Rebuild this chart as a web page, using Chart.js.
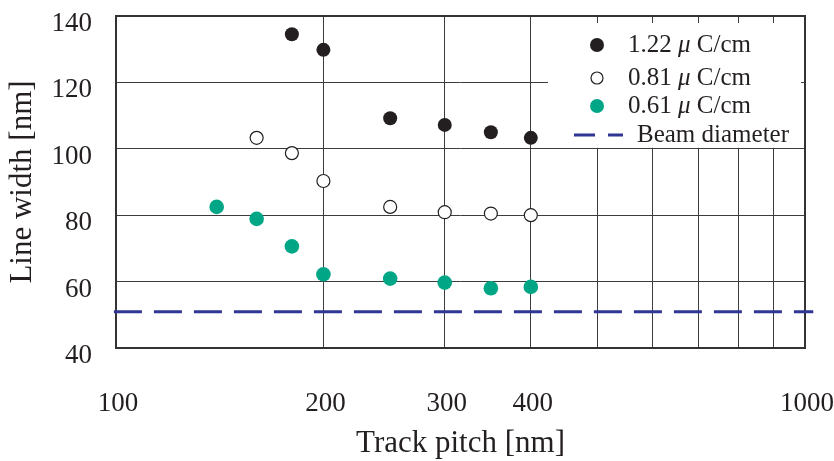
<!DOCTYPE html>
<html>
<head>
<meta charset="utf-8">
<script src="https://cdn.jsdelivr.net/npm/chart.js@4.4.1/dist/chart.umd.min.js"></script>
<style>
  html, body { margin: 0; padding: 0; background: #fff; }
  #wrap { width: 834px; height: 461px; position: relative; }
</style>
</head>
<body>
<div id="wrap"><canvas id="c" width="834" height="461"></canvas></div>
<script>
// ---- data ----
const pitch122 = [180, 200, 250, 300, 350, 400];
const width122 = [134.5, 129.8, 109.2, 107.2, 105.0, 103.3];

const pitch081 = [160, 180, 200, 250, 300, 350, 400];
const width081 = [103.3, 98.7, 90.3, 82.5, 80.9, 80.5, 80.0];

const pitch061 = [140, 160, 180, 200, 250, 300, 350, 400];
const width061 = [82.5, 78.9, 70.6, 62.2, 60.9, 59.7, 58.0, 58.4];

const beamPitch = [99.3, 1028];
const beamWidth = [50.9, 50.9];

const seriesLabels = ['1.22 μ C/cm', '0.81 μ C/cm', '0.61 μ C/cm', 'Beam diameter'];
const xGridValues = [100, 200, 300, 400, 500, 600, 700, 800, 900, 1000];
const xTickLabels = [100, 200, 300, 400, 1000];
const yTicks = [40, 60, 80, 100, 120, 140];

const pts = (xs, ys) => xs.map((x, i) => ({ x: x, y: ys[i] }));

const SERIF = '"Liberation Serif", "Times New Roman", serif';
const INK = '#231f20';
const GRID = '#3c3c3c';
const GREEN = '#00a686';
const BLUE = '#2f3592';

const framePlugin = {
  id: 'frameAndLegend',
  beforeDatasetsDraw(chart) {
    const { ctx, chartArea: a, scales } = chart;
    const y100 = scales.y.getPixelForValue(100);
    ctx.save();
    ctx.fillStyle = '#ffffff';
    ctx.fillRect(a.right - 257, a.top + 7, 257 - 4, y100 - a.top - 7 - 1);
    ctx.strokeStyle = '#333333';
    ctx.lineWidth = 2;
    ctx.strokeRect(a.left, a.top, a.right - a.left, a.bottom - a.top);
    ctx.restore();
  },
  afterDraw(chart) {
    const { ctx, chartArea: a } = chart;
    const mx = a.right - 208;
    const tx = a.right - 177;
    const rows = [a.top + 29, a.top + 62, a.top + 90, a.top + 119];
    ctx.save();
    ctx.textBaseline = 'middle';
    const ds = chart.data.datasets;
    const F = 25;
    for (let i = 0; i < 3; i++) {
      const d = ds[i];
      ctx.beginPath();
      ctx.arc(mx, rows[i], i === 1 ? 6 : 7, 0, Math.PI * 2);
      ctx.fillStyle = d.pointBackgroundColor;
      ctx.fill();
      if (i === 1) { ctx.strokeStyle = INK; ctx.lineWidth = 1.2; ctx.stroke(); }
      const parts = seriesLabels[i].split('μ');
      let x = tx;
      ctx.fillStyle = INK;
      ctx.font = F + 'px ' + SERIF;
      ctx.fillText(parts[0], x, rows[i]);
      x += ctx.measureText(parts[0]).width;
      ctx.font = 'italic ' + F + 'px ' + SERIF;
      ctx.fillText('μ', x, rows[i]);
      x += ctx.measureText('μ').width;
      ctx.font = F + 'px ' + SERIF;
      ctx.fillText(parts[1], x, rows[i]);
    }
    ctx.strokeStyle = BLUE;
    ctx.lineWidth = 3;
    ctx.setLineDash([21, 13]);
    ctx.beginPath();
    ctx.moveTo(mx - 23, rows[3]);
    ctx.lineTo(mx + 26, rows[3]);
    ctx.stroke();
    ctx.setLineDash([]);
    ctx.fillStyle = INK;
    ctx.font = F + 'px ' + SERIF;
    ctx.fillText(seriesLabels[3], tx + 9, rows[3]);
    ctx.restore();
  }
};

new Chart(document.getElementById('c'), {
  type: 'scatter',
  data: {
    datasets: [
      { label: seriesLabels[0], data: pts(pitch122, width122),
        pointRadius: 7, pointHoverRadius: 7, pointBackgroundColor: INK, pointBorderColor: INK, pointBorderWidth: 0, showLine: false },
      { label: seriesLabels[1], data: pts(pitch081, width081),
        pointRadius: 6.5, pointHoverRadius: 6.5, pointBackgroundColor: '#ffffff', pointBorderColor: INK, pointBorderWidth: 1.2, showLine: false },
      { label: seriesLabels[2], data: pts(pitch061, width061),
        pointRadius: 7.3, pointHoverRadius: 7.3, pointBackgroundColor: GREEN, pointBorderColor: GREEN, pointBorderWidth: 0, showLine: false },
      { label: seriesLabels[3], data: pts(beamPitch, beamWidth), type: 'line',
        borderColor: BLUE, borderWidth: 3, borderDash: [28, 12], pointRadius: 0, fill: false, clip: false, order: 5 }
    ]
  },
  options: {
    responsive: false,
    animation: false,
    events: [],
    layout: { padding: { top: 16, right: 29, left: 0, bottom: 0 } },
    plugins: { legend: { display: false }, tooltip: { enabled: false } },
    scales: {
      x: {
        type: 'logarithmic',
        min: 100, max: 1000,
        afterBuildTicks(s) { s.ticks = xGridValues.map(v => ({ value: v })); },
        afterFit(s) { s.height = 113; s.paddingLeft = 0; s.paddingRight = 0; },
        grid: { color: GRID, lineWidth: 1, drawTicks: false },
        border: { display: false },
        ticks: {
          autoSkip: false, maxRotation: 0, minRotation: 0, padding: 40, labelOffset: 2,
          color: INK, font: { family: SERIF, size: 27 },
          callback: (v) => xTickLabels.includes(Math.round(v)) ? String(Math.round(v)) : ''
        },
        title: { display: true, text: 'Track pitch [nm]', color: INK,
          font: { family: SERIF, size: 31, lineHeight: 1 }, padding: { bottom: 1.5, top: 0 } }
      },
      y: {
        min: 40, max: 140,
        afterBuildTicks(s) { s.ticks = yTicks.map(v => ({ value: v })); },
        afterFit(s) { s.width = 116; s.paddingTop = 0; s.paddingBottom = 0; },
        grid: { color: GRID, lineWidth: 1, drawTicks: false },
        border: { display: false },
        ticks: { padding: 24, labelOffset: 8, color: INK, font: { family: SERIF, size: 27 } },
        title: { display: true, text: 'Line width [nm]', color: INK,
          font: { family: SERIF, size: 31 }, padding: { top: 4, bottom: 0 } }
      }
    }
  },
  plugins: [framePlugin]
});
</script>
</body>
</html>
